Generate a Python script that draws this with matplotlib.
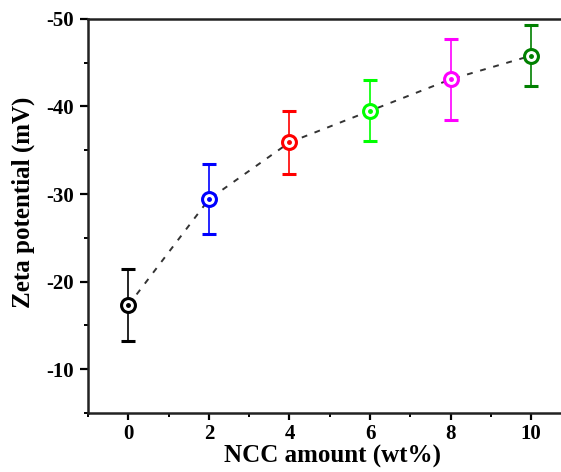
import numpy as np
import matplotlib
matplotlib.use("Agg")
from matplotlib import pyplot as plt
from matplotlib.ticker import MultipleLocator

# zeta potential vs NCC loading
ncc = [0, 2, 4, 6, 8, 10]
zeta = [-17.3, -29.4, -35.9, -39.5, -43.1, -45.8]
err = [4.1, 4.0, 3.6, 3.5, 4.6, 3.5]
colors = ['black', 'blue', 'red', '#00ff00', 'magenta', 'green']

plt.rcParams['font.family'] = ['Liberation Serif', 'DejaVu Serif']
plt.rcParams['font.weight'] = 'bold'
plt.rcParams['axes.unicode_minus'] = False

fig = plt.figure(figsize=(5.61, 4.72), dpi=100)
ax = fig.add_axes([0.157, 0.125, 0.843, 0.835])

ax.plot(ncc, zeta, linestyle=(0, (3, 4)), color='#333333', lw=1.4, zorder=1)

for x, y, e, c in zip(ncc, zeta, err, colors):
    ax.errorbar(x, y, yerr=e, color=c, capsize=5, elinewidth=1.2, capthick=1.2,
                marker='o', markersize=10, markerfacecolor='white',
                markeredgewidth=2.2, markeredgecolor=c, zorder=2)
    ax.plot(x, y, marker='o', markersize=2.5, color=c, zorder=3)

ax.set_xlim(-1, 10.74)
ax.set_ylim(-5, -50)
ax.xaxis.set_major_locator(MultipleLocator(2))
ax.xaxis.set_minor_locator(MultipleLocator(1))
ax.yaxis.set_major_locator(MultipleLocator(10))
ax.yaxis.set_minor_locator(MultipleLocator(5))

ax.spines['right'].set_visible(False)
for s in ['left', 'top', 'bottom']:
    ax.spines[s].set_linewidth(1.8)
    ax.spines[s].set_color('#222222')

ax.tick_params(which='major', direction='out', length=6, width=1.6, labelsize=15, pad=4)
ax.tick_params(axis='x', which='major', length=5, pad=3)
ax.tick_params(which='minor', direction='out', length=3, width=1.4)
ax.tick_params(top=False, right=False, which='both')

ax.set_xlabel("NCC amount (wt%)", fontsize=18, fontweight='bold')
ax.set_ylabel("Zeta potential (mV)", fontsize=18, fontweight='bold')
ax.xaxis.set_label_coords(0.516, -0.08)
ax.yaxis.set_label_coords(-0.112, 0.535)

plt.savefig("out.png", dpi=100)
